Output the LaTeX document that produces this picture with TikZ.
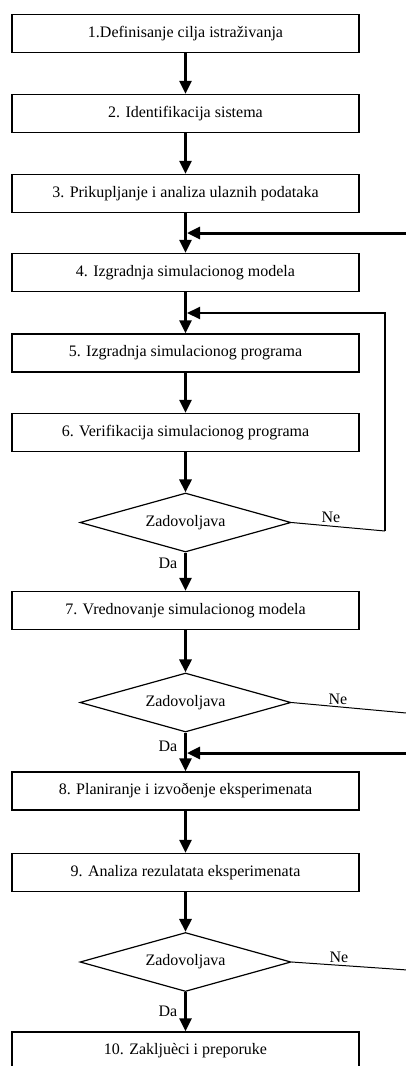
\documentclass[tikz,border=0pt]{standalone}
\usepackage{fontspec}
\setmainfont{Liberation Serif}
\usetikzlibrary{positioning,arrows.meta,shapes.geometric}

\begin{document}
\begin{tikzpicture}[x=1pt, y=-1pt,
  korak/.style={draw, line width=1.4pt, minimum width=347pt, minimum height=38pt, inner sep=0pt, font=\fontsize{16}{19}\selectfont},
  odluka/.style={draw, diamond, aspect=3.6, line width=1.2pt, minimum width=211pt, minimum height=59pt, inner sep=0pt, font=\fontsize{16}{19}\selectfont},
  tok/.style={line width=3pt, -{Triangle[length=13pt,width=12pt]}},
  veza/.style={line width=1pt},
  oznaka/.style={inner sep=0pt, font=\fontsize{16}{19}\selectfont}]
\useasboundingbox (0,0) rectangle (406,1066);
\node[korak] (k1) at (185.5,33.5) {1.Definisanje cilja istraživanja};
\node[korak] (k2) at (185.5,113.5) {2. Identifikacija sistema};
\node[korak] (k3) at (185.5,193.5) {3. Prikupljanje i analiza ulaznih podataka};
\node[korak] (k4) at (185.5,272.5) {4. Izgradnja simulacionog modela};
\node[korak] (k5) at (185.5,353) {5. Izgradnja simulacionog programa};
\node[korak] (k6) at (185.5,432.5) {6. Verifikacija simulacionog programa};
\node[odluka] (o1) at (185.5,522.5) {Zadovoljava};
\node[korak] (k7) at (185.5,610.5) {7. Vrednovanje simulacionog modela};
\node[odluka] (o2) at (185.5,702.5) {Zadovoljava};
\node[korak] (k8) at (185.5,791) {8. Planiranje i izvoðenje eksperimenata};
\node[korak] (k9) at (185.5,872.5) {9. Analiza rezulatata eksperimenata};
\node[odluka] (o3) at (185.5,962) {Zadovoljava};
\node[korak] (k10) at (185.5,1051) {10. Zakljuèci i preporuke};
\node[oznaka] (ne1) at (331,517) {Ne};
\node[oznaka] (ne2) at (338,699) {Ne};
\node[oznaka] (ne3) at (339,957) {Ne};
\node[oznaka] (da1) at (168,563) {Da};
\node[oznaka] (da2) at (168,746) {Da};
\node[oznaka] (da3) at (168,1011) {Da};
\coordinate (s1) at (187,233);
\coordinate (p1) at (415,233);
\coordinate (s2) at (187,313);
\coordinate (p2) at (385,531);
\coordinate (p3) at (415,713.8);
\coordinate (s4) at (187,753);
\coordinate (p4) at (415,753);
\coordinate (p5) at (415,970.5);
\draw[tok] (k1) -- (k2);
\draw[tok] (k2) -- (k3);
\draw[tok] (k3) -- (k4);
\draw[tok] (k4) -- (k5);
\draw[tok] (k5) -- (k6);
\draw[tok] (k6) -- (o1);
\draw[tok] (o1) -- (k7);
\draw[tok] (k7) -- (o2);
\draw[tok] (o2) -- (k8);
\draw[tok] (k8) -- (k9);
\draw[tok] (k9) -- (o3);
\draw[tok] (o3) -- (k10);
\draw[tok] (p1) -- (s1);
\draw[veza] (o1.east) -- (p2);
\draw[tok, line width=2pt] (p2) |- (s2);
\draw[veza] (o2.east) -- (p3);
\draw[tok] (p4) -- (s4);
\draw[veza] (o3.east) -- (p5);
\end{tikzpicture}
\end{document}
